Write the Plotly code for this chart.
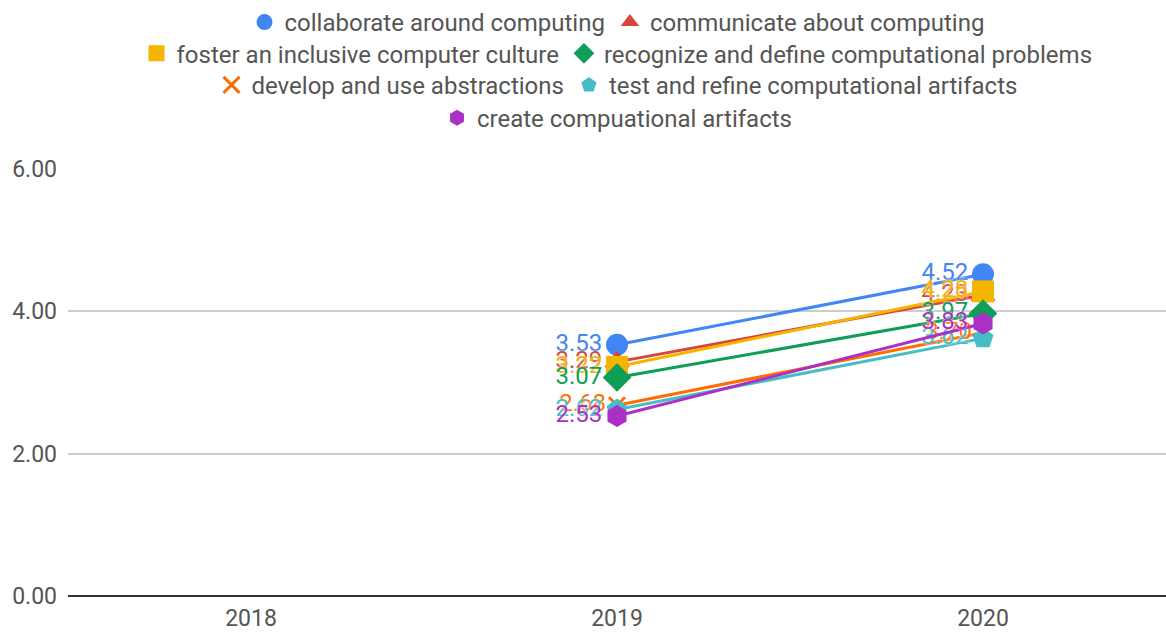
import plotly.graph_objects as go

years = ["2018", "2019", "2020"]
names = [
    "collaborate around computing",
    "communicate about computing",
    "foster an inclusive computer culture",
    "recognize and define computational problems",
    "develop and use abstractions",
    "test and refine computational artifacts",
    "create compuational artifacts",
]
collaborate = [None, 3.53, 4.52]
communicate = [None, 3.29, 4.23]
foster = [None, 3.22, 4.28]
recognize = [None, 3.07, 3.97]
develop = [None, 2.68, 3.70]
test_refine = [None, 2.62, 3.62]
create = [None, 2.53, 3.83]
series = [collaborate, communicate, foster, recognize, develop, test_refine, create]

colors = ["#4285F4", "#DB4437", "#F4B400", "#0F9D58", "#FF6D00", "#46BDC6", "#AB30C4"]
symbols = ["circle", "triangle-up", "square", "diamond", "x-thin-open", "pentagon", "hexagon"]
legends = ["legend", "legend", "legend2", "legend2", "legend3", "legend3", "legend4"]

FONT = "Roboto"
fig = go.Figure()
for name, vals, c, s, lg in zip(names, series, colors, symbols, legends):
    msize = 22
    mline = dict(width=0)
    if s == "x-thin-open":
        mline = dict(width=3, color=c)
        msize = 16
    fig.add_trace(go.Scatter(
        x=years, y=vals, name=name, mode="lines+markers+text",
        line=dict(color=c, width=3),
        marker=dict(symbol=s, size=msize, color=c, line=mline),
        text=[("" if v is None else f"{v:.2f}") for v in vals],
        textposition="middle left",
        textfont=dict(color=c, size=24, family=FONT, shadow="0px 0px 3px white"),
        showlegend=False, hoverinfo="skip",
    ))
    # legend-only entry (markers only, as in the reference legend)
    fig.add_trace(go.Scatter(
        x=[None], y=[None], name=name, mode="markers",
        marker=dict(symbol=s, size=20, color=c, line=mline),
        legend=lg, hoverinfo="skip",
    ))

leg_common = dict(orientation="h", xanchor="center", x=0.5, yanchor="middle",
                  font=dict(size=24, color="#555555", family=FONT),
                  bgcolor="rgba(0,0,0,0)", itemclick=False, itemwidth=30,
                  tracegroupgap=0)

fig.update_layout(
    width=1166, height=634,
    margin=dict(l=68, r=0, t=165, b=38),
    plot_bgcolor="white", paper_bgcolor="white",
    font=dict(family=FONT, color="#555555"),
    legend=dict(y=1.344, **leg_common),
    legend2=dict(y=1.270, **leg_common),
    legend3=dict(y=1.196, **leg_common),
    legend4=dict(y=1.119, **leg_common),
    xaxis=dict(type="category", range=[-0.5, 2.5], showgrid=False,
               tickfont=dict(size=23, color="#555555"), showline=False,
               ticks="", ticklabelstandoff=6),
    yaxis=dict(range=[0, 6], tickvals=[0, 2, 4, 6], ticktext=["0.00", "2.00", "4.00", "6.00"],
               gridcolor="#cccccc", gridwidth=1.5, zeroline=True, zerolinecolor="#333333",
               zerolinewidth=2, tickfont=dict(size=23, color="#555555"), ticks="",
               ticklabelstandoff=10),
)

fig.write_html("out.html")
